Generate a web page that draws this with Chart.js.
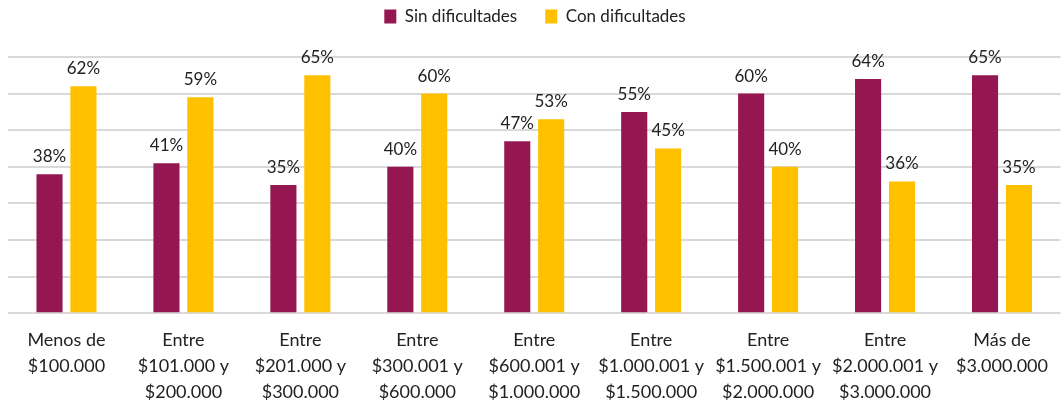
<!DOCTYPE html>
<html>
<head>
<meta charset="utf-8">
<script src="https://cdn.jsdelivr.net/npm/chart.js@4.4.0/dist/chart.umd.min.js"></script>
<style>
html,body{margin:0;padding:0;background:#fff;}
#wrap{width:1062px;height:402px;}
</style>
</head>
<body>
<div id="wrap"><canvas id="c" width="1062" height="402"></canvas></div>
<script>
const categories = [
  ["Menos de", "$100.000"],
  ["Entre", "$101.000 y", "$200.000"],
  ["Entre", "$201.000 y", "$300.000"],
  ["Entre", "$300.001 y", "$600.000"],
  ["Entre", "$600.001 y", "$1.000.000"],
  ["Entre", "$1.000.001 y", "$1.500.000"],
  ["Entre", "$1.500.001 y", "$2.000.000"],
  ["Entre", "$2.000.001 y", "$3.000.000"],
  ["Más de", "$3.000.000"]
];
const sinDificultades = [38, 41, 35, 40, 47, 55, 60, 64, 65];
const conDificultades = [62, 59, 65, 60, 53, 45, 40, 36, 35];
const seriesNames = ["Sin dificultades", "Con dificultades"];

const FONT = "Lato, 'Open Sans', sans-serif";

const valueLabels = {
  id: 'valueLabels',
  afterDatasetsDraw(chart) {
    const ctx = chart.ctx;
    ctx.save();
    ctx.font = "17px " + FONT;
    ctx.fillStyle = "#222";
    ctx.textAlign = "center";
    ctx.textBaseline = "bottom";
    chart.data.datasets.forEach((ds, i) => {
      const meta = chart.getDatasetMeta(i);
      meta.data.forEach((bar, j) => {
        ctx.fillText(ds.data[j] + "%", bar.x, bar.y - 9);
      });
    });
    ctx.restore();
  }
};

const legendHeight = {
  id: 'legendHeight',
  beforeInit(chart) {
    const orig = chart.legend.fit;
    chart.legend.fit = function () {
      orig.bind(chart.legend)();
      this.height = 77;
    };
  }
};

new Chart(document.getElementById('c'), {
  type: 'bar',
  data: {
    labels: categories,
    datasets: [
      { label: seriesNames[0], data: sinDificultades, backgroundColor: '#941751', borderWidth: 0,
        categoryPercentage: 0.58, barPercentage: 0.77 },
      { label: seriesNames[1], data: conDificultades, backgroundColor: '#FFC000', borderWidth: 0,
        categoryPercentage: 0.58, barPercentage: 0.77 }
    ]
  },
  options: {
    responsive: false,
    animation: false,
    devicePixelRatio: 1,
    layout: { padding: { left: 8, right: 0, top: -20, bottom: -17 } },
    plugins: {
      legend: {
        position: 'top',
        labels: {
          font: { family: FONT, size: 17 },
          color: '#222',
          boxWidth: 12,
          boxHeight: 14,
          padding: 28
        }
      },
      tooltip: { enabled: false }
    },
    scales: {
      x: {
        grid: { display: false, drawTicks: false },
        border: { display: false },
        ticks: {
          font: { family: FONT, size: 18, lineHeight: 1.44 },
          color: '#222',
          maxRotation: 0,
          autoSkip: false,
          padding: 14
        }
      },
      y: {
        min: 0, max: 70,
        ticks: { display: false, stepSize: 10 },
        border: { display: false },
        grid: { color: '#D9D9D9', lineWidth: 2, drawTicks: false }
      }
    }
  },
  plugins: [valueLabels, legendHeight]
});
</script>
</body>
</html>
